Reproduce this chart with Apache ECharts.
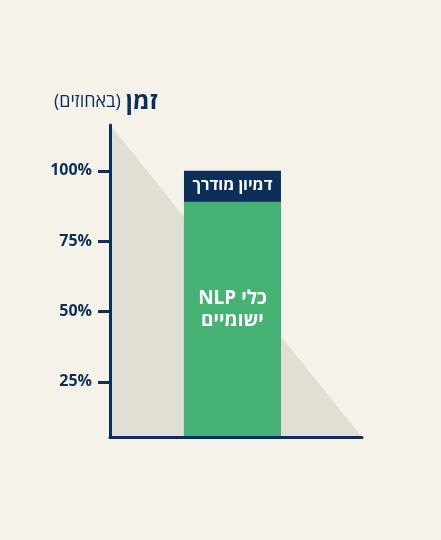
<!DOCTYPE html>
<html>
<head>
<meta charset="utf-8">
<script src="https://cdn.jsdelivr.net/npm/echarts@6/dist/echarts.min.js"></script>
<style>
  html, body { margin: 0; padding: 0; background: #f5f3e9; }
  #chart { width: 441px; height: 540px; }
</style>
</head>
<body>
<div id="chart"></div>
<script>
// data
var tickValues = [25, 50, 75, 100];
var triangleX = [0, 100];
var triangleY = [116.3, 5.4];
var barX = 48.6;
var greenValue = 89;   // כלי NLP ישומיים
var navyTop = 100;     // דמיון מודרך (sits on top of the green part)

var navy = '#0c2f59';
var green = '#46b274';
var font = "'Open Sans', 'DejaVu Sans', sans-serif";

var chart = echarts.init(document.getElementById('chart'));

var option = {
    backgroundColor: '#f5f3e9',
    animation: false,
    title: {
        left: 49,
        top: 85,
        text: '{a|(באחוזים)} {b|זמן}',
        textStyle: {
            rich: {
                a: { fontSize: 18, color: navy, fontFamily: font, fontWeight: 'normal' },
                b: { fontSize: 24, color: navy, fontFamily: font, fontWeight: 'bold' }
            }
        }
    },
    grid: {
        left: 110,
        right: 79,
        top: 125,
        bottom: 103
    },
    xAxis: {
        type: 'value',
        min: 0,
        max: 100,
        z: 10,
        axisLine: { show: true, lineStyle: { color: navy, width: 3 } },
        axisTick: { show: false },
        axisLabel: { show: false },
        splitLine: { show: false }
    },
    yAxis: {
        type: 'value',
        min: 5.4,
        max: 116.3,
        z: 10,
        axisLine: { show: true, lineStyle: { color: navy, width: 3 } },
        axisTick: {
            show: true,
            customValues: tickValues,
            length: 12,
            lineStyle: { color: navy, width: 3 }
        },
        axisLabel: {
            customValues: tickValues,
            margin: 18,
            color: navy,
            fontSize: 16,
            fontWeight: 'bold',
            fontFamily: font,
            formatter: '{value}%'
        },
        splitLine: { show: false }
    },
    series: [{
        type: 'line',
        data: triangleX.map(function (x, i) { return [x, triangleY[i]]; }),
        symbol: 'none',
        lineStyle: { width: 0 },
        areaStyle: { color: '#e1ded3', opacity: 1, origin: 'start' },
        z: 1
    }, {
        type: 'bar',
        barWidth: 97,
        barGap: '-100%',
        data: [[barX, navyTop]],
        itemStyle: { color: navy },
        label: {
            show: true,
            position: 'insideTop',
            distance: 7,
            formatter: 'דמיון מודרך',
            color: '#fff',
            fontSize: 16,
            fontWeight: 'bold',
            fontFamily: font
        },
        z: 2
    }, {
        type: 'bar',
        barWidth: 97,
        barGap: '-100%',
        data: [[barX, greenValue]],
        itemStyle: { color: green },
        label: {
            show: true,
            position: 'inside',
            offset: [0, -10],
            formatter: 'NLP כלי\nישומיים',
            color: '#fff',
            fontSize: 19,
            fontWeight: 'bold',
            lineHeight: 22,
            fontFamily: font
        },
        z: 3
    }]
};

chart.setOption(option);
window.addEventListener('resize', function () {
    chart.resize();
});
</script>
</body>
</html>
